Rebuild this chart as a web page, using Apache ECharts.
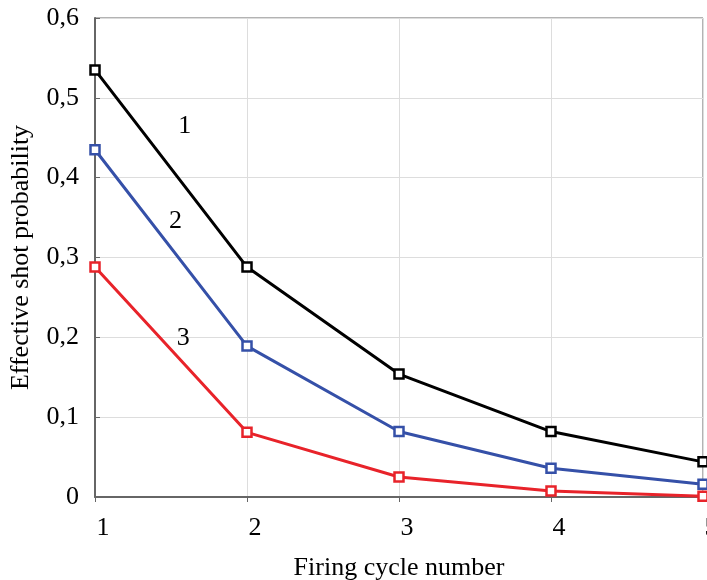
<!DOCTYPE html>
<html>
<head>
<meta charset="utf-8">
<script src="https://cdn.jsdelivr.net/npm/echarts@6/dist/echarts.min.js"></script>
<style>html,body{margin:0;padding:0;background:#fff}#c{width:707px;height:580px}</style>
</head>
<body>
<div id="c"></div>
<script>
var cycles = [1, 2, 3, 4, 5];
var curve1 = [0.535, 0.288, 0.154, 0.082, 0.044];
var curve2 = [0.435, 0.189, 0.082, 0.036, 0.016];
var curve3 = [0.288, 0.081, 0.025, 0.0075, 0.001];
var curveNames = ['1', '2', '3'];
var labelPos = [[1.59, 0.465], [1.53, 0.346], [1.58, 0.199]];
var colors = ['#000000', '#3550a8', '#e8232a'];
var font = "'Liberation Serif', 'Times New Roman', serif";

function pairs(ys) { return cycles.map(function (x, i) { return [x, ys[i]]; }); }
var all = [curve1, curve2, curve3];
var series = all.map(function (ys, k) {
  return {
    type: 'line',
    data: pairs(ys),
    symbol: 'rect',
    symbolSize: 9,
    lineStyle: { color: colors[k], width: 3 },
    itemStyle: { color: '#fff', borderColor: colors[k], borderWidth: 2.5 },
    z: 3 + k,
    markPoint: {
      symbol: 'circle', symbolSize: 1,
      itemStyle: { color: 'rgba(0,0,0,0)' },
      label: { show: true, formatter: curveNames[k], color: '#000', fontFamily: font, fontSize: 26, position: 'inside' },
      data: [{ coord: labelPos[k] }]
    }
  };
});

var chart = echarts.init(document.getElementById('c'));
chart.setOption({
  animation: false,
  backgroundColor: '#fff',
  grid: { left: 95, right: 4, top: 18, bottom: 83, show: true, borderColor: '#666', borderWidth: 1,
    containLabel: false, outerBoundsMode: 'none' },
  xAxis: {
    type: 'value', min: 1, max: 5, interval: 1,
    name: 'Firing cycle number', nameLocation: 'middle', nameGap: 58,
    nameTextStyle: { fontFamily: font, fontSize: 26, color: '#000' },
    axisLine: { show: true, onZero: false, lineStyle: { color: '#666', width: 2 } },
    axisTick: { show: true, inside: false, length: 5, lineStyle: { color: '#666' } },
    axisLabel: { fontFamily: font, fontSize: 26, color: '#000', margin: 18, padding: [0, 0, 0, 16], showMaxLabel: true },
    splitLine: { show: true, lineStyle: { color: '#dddddd', width: 1 } }
  },
  yAxis: {
    type: 'value', min: 0, max: 0.6, interval: 0.1,
    name: 'Effective shot probability', nameLocation: 'middle', nameGap: 61,
    nameTextStyle: { fontFamily: font, fontSize: 26, color: '#000' },
    axisLine: { show: true, lineStyle: { color: '#666', width: 2 } },
    axisTick: { show: true, inside: true, length: 5, lineStyle: { color: '#666' } },
    axisLabel: { fontFamily: font, fontSize: 26, color: '#000', margin: 16,
      formatter: function (v) { return v === 0 ? '0' : v.toFixed(1).replace('.', ','); } },
    splitLine: { show: true, lineStyle: { color: '#dddddd', width: 1 } }
  },
  series: series
});
</script>
</body>
</html>
